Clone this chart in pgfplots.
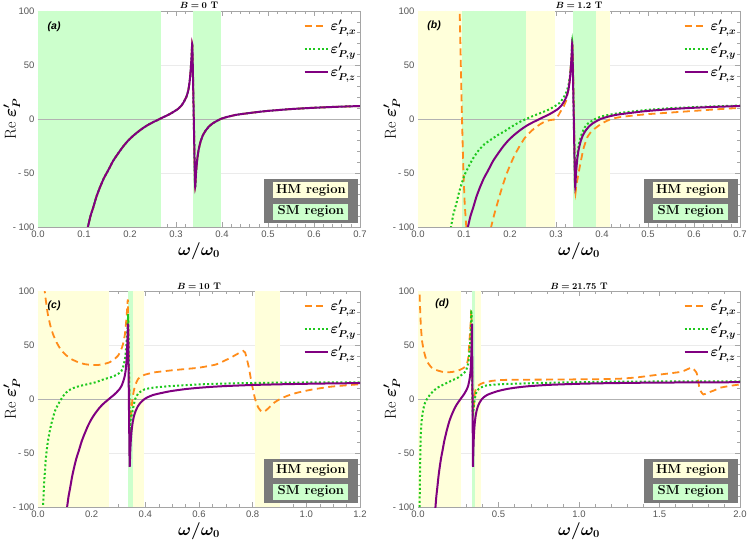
\documentclass[border=0pt]{standalone}
\usepackage{amsmath}
\usepackage{bm}
\usepackage{fontspec}
\setsansfont{Liberation Sans}
\usepackage{pgfplots}
\usepackage{pgfplotstable}
\pgfplotsset{compat=1.18}

\definecolor{cor}{RGB}{255,140,26}
\definecolor{cgr}{RGB}{30,200,30}
\definecolor{cpu}{RGB}{128,0,128}
\definecolor{lgreen}{RGB}{204,255,204}
\definecolor{lyellow}{RGB}{255,255,218}
\definecolor{boxgray}{RGB}{122,122,122}
\definecolor{framegray}{RGB}{165,165,165}
\definecolor{ticklab}{RGB}{85,85,85}

\pgfplotstableread{
x y
0.105 -106
0.109 -99
0.114 -90
0.120 -82
0.127 -72
0.134 -64
0.143 -55
0.152 -48
0.163 -39
0.174 -32
0.185 -25.5
0.196 -20
0.207 -15.5
0.217 -12
0.228 -8.5
0.239 -5.5
0.250 -3
0.262 -0.5
0.272 1.6
0.283 3.8
0.293 6.2
0.304 9.2
0.312 12.5
0.318 16.5
0.323 21
0.327 27
0.330 36
0.332 46
0.334 59
0.3355 69
0.3385 4
0.3415 -62
0.3435 -50
0.346 -38
0.349 -29
0.353 -21.5
0.358 -15.5
0.364 -11
0.372 -6.8
0.380 -4
0.388 -2
0.397 0
0.41 1.8
0.43 3.8
0.45 5.0
0.48 6.6
0.50 7.5
0.55 9.2
0.60 10.4
0.65 11.3
0.70 12.0
0.80 13.0
0.90 13.6
1.00 14.1
1.10 14.45
1.20 14.7
1.35 15.0
1.50 15.2
1.75 15.4
2.00 15.55
}\purpledata

\pgfplotstableread{
x y
0.070 -105
0.0725 -98
0.077 -88
0.083 -79
0.088 -70
0.094 -61
0.101 -52
0.109 -45
0.119 -37
0.130 -30
0.144 -23.5
0.159 -19
0.173 -15
0.188 -11.4
0.202 -7.5
0.217 -3.7
0.228 -1.3
0.235 0
0.250 2.8
0.268 5.8
0.283 8.5
0.297 11.7
0.308 15
0.316 19.5
0.322 24.5
0.327 31
0.331 42
0.3335 56
0.3355 71
0.3385 6
0.3415 -60
0.3435 -47
0.346 -34
0.350 -23
0.355 -15
0.362 -8
0.370 -4
0.385 0
0.40 2.5
0.43 5
0.45 6.2
0.50 8.5
0.55 10
0.60 11
0.65 11.8
0.70 12.4
}\greenb

\pgfplotstableread{
x y
0.088 140
0.0906 100
0.093 52
0.0957 0
0.0985 -45
0.1015 -78
0.105 -100
0.107 -115
}\orangebA

\pgfplotstableread{
x y
0.155 -112
0.159 -100
0.166 -88
0.174 -76
0.183 -63
0.192 -51.5
0.201 -42
0.210 -33.5
0.221 -25
0.232 -17.6
0.243 -12.5
0.254 -8.3
0.265 -5
0.275 -2.6
0.287 -1
0.300 0
0.310 7
0.316 11
0.322 17
0.325 23
0.329 33
0.332 48
0.3345 60
0.3362 66
0.3392 0
0.342 -67
0.344 -62
0.347 -55
0.350 -48
0.354 -39
0.360 -27
0.368 -17
0.376 -12
0.383 -9.3
0.40 -4
0.42 0
0.44 1.8
0.47 3.3
0.50 4.5
0.55 6
0.60 7.5
0.65 9
0.70 10.3
}\orangebB

\pgfplotstableread{
x y
0.020 115
0.025 100
0.031 88
0.037 78
0.046 68
0.056 60
0.070 52
0.087 45
0.105 40.5
0.124 37
0.150 34
0.174 32.3
0.200 31.5
0.224 31.5
0.247 32.5
0.267 34
0.285 37
0.298 40
0.309 45
0.317 51
0.324 60
0.329 73
0.333 86
0.335 91
0.3385 35
0.342 -12
0.345 -19
0.348 -11
0.352 0
0.356 6
0.360 10.7
0.366 15
0.373 18.5
0.385 21
0.398 22.5
0.435 24.7
0.497 26.5
0.56 28
0.60 29
0.664 32
0.716 38
0.745 42
0.765 44.5
0.772 43
0.785 30
0.796 15
0.809 0
0.821 -8
0.835 -12
0.850 -10.5
0.877 -4
0.902 0
0.93 3
0.964 5.7
1.02 8.7
1.088 11.3
1.15 12.7
1.20 13.7
}\orangec

\pgfplotstableread{
x y
0.017 -110
0.019 -99
0.022 -82
0.025 -70
0.030 -53
0.037 -39
0.046 -27
0.056 -17
0.065 -10
0.075 -5
0.087 0
0.099 4.5
0.115 8
0.137 10.7
0.160 12.3
0.186 13.8
0.215 15.5
0.248 18.5
0.270 20
0.286 21.6
0.300 23.5
0.311 26
0.319 31
0.325 38.6
0.330 52
0.3335 65
0.3360 78
0.3395 20
0.3425 -27
0.345 -20
0.350 -14
0.354 -9
0.360 -2
0.362 0
0.366 2
0.375 5.5
0.398 9
0.435 10.7
0.497 12
0.559 13
0.65 14
0.75 14.6
0.85 15
1.0 15.3
1.2 15.5
}\greenc

\pgfplotstableread{
x y
0.004 118
0.006 110
0.010 97
0.014 80
0.018 67
0.025 54
0.033 47
0.041 41.7
0.055 35
0.083 29.3
0.12 26.5
0.166 24.7
0.21 25
0.248 26.2
0.28 28.5
0.300 31
0.312 38
0.321 57
0.327 70
0.331 82
0.335 40
0.339 -5
0.3425 -13
0.346 -7
0.349 0
0.355 7
0.362 10
0.373 12.2
0.39 14
0.414 15.3
0.46 16.8
0.518 17.6
0.6 17.8
0.7 17.9
0.85 18
1.0 18.2
1.15 18.4
1.255 18.8
1.36 20
1.46 21.9
1.55 23.5
1.638 25.3
1.70 29
1.731 24
1.742 15
1.75 8.8
1.772 4.2
1.80 5.8
1.84 8
1.876 10.4
1.94 12.2
2.00 13.5
}\oranged

\pgfplotstableread{
x y
0.008 -112
0.010 -98
0.012 -75
0.014 -55
0.0166 -36
0.020 -25
0.025 -17
0.031 -11
0.040 -5
0.050 -1.5
0.062 1.4
0.08 5
0.10 8
0.124 10.7
0.16 13.5
0.207 16.9
0.25 20
0.29 24.7
0.305 29
0.315 36
0.322 48
0.327 62
0.332 80
0.3355 30
0.339 -12
0.342 -14
0.346 -8
0.352 -1
0.356 2.5
0.362 6
0.375 9
0.414 12.2
0.50 13.6
0.683 14.5
0.9 15.3
1.2 16
1.6 16.3
2.0 16.4
}\greend

\pgfplotsset{
  legend image code/.code={\draw[#1] (0pt,0pt) -- (23pt,0pt);},
  panel/.style={
    width=322pt, height=216pt, scale only axis,
    ymin=-100, ymax=100,
    ytick={-100,-50,0,50,100}, yticklabels={- 100,- 50,0,50,100},
    minor y tick num=4,
    tick align=inside,
    major tick length=5pt, minor tick length=3pt,
    axis line style={framegray, line width=0.6pt},
    every tick/.style={framegray, line width=0.4pt},
    tick label style={font=\sffamily\fontsize{9.5}{10}\selectfont, text=ticklab},
    ymajorgrids, major grid style={black!8, line width=0.5pt},
    xlabel={$\bm{\omega/\omega_0}$},
    ylabel={Re $\bm{\varepsilon'_{P}}$},
    label style={font=\fontsize{16}{18}\selectfont},
    ylabel style={at={(axis description cs:-0.081,0.5)}, anchor=center},
    xlabel style={yshift=2pt},
    title style={font=\bfseries\fontsize{9.5}{10}\selectfont, at={(0.5,1)}, anchor=base, inner sep=0pt, yshift=-4pt},
    legend style={draw=none, fill=none, at={(0.998,0.975)}, anchor=north east,
      font=\fontsize{14}{15}\selectfont, row sep=7pt, inner sep=1pt},
    legend cell align=left,
  },
  px/.style={cor, line width=1.8pt, dash pattern=on 7pt off 4.5pt, smooth, tension=0.3},
  py/.style={cgr, line width=2pt, dash pattern=on 2pt off 2.3pt, smooth, tension=0.3},
  pz/.style={cpu, line width=2pt, smooth, tension=0.3},
  zl/.style={black!30, line width=0.6pt, forget plot},
}

\newcommand{\regionbox}{%
  \node[anchor=south east, fill=boxgray, minimum width=94pt, minimum height=44pt, inner sep=0] (rb) at (rel axis cs:0.994,0.018) {};
  \node[fill=lyellow, minimum width=75pt, minimum height=16pt, inner sep=0, font=\bfseries\fontsize{13}{14}\selectfont] at ([yshift=-11.5pt]rb.north) {HM region};
  \node[fill=lgreen, minimum width=75pt, minimum height=16pt, inner sep=0, font=\bfseries\fontsize{13}{14}\selectfont] at ([yshift=11.5pt]rb.south) {SM region};
}
\newcommand{\plabel}[3]{\node[font=\sffamily\bfseries\itshape\fontsize{10.5}{11}\selectfont] at (rel axis cs:#1,#2) {#3};}

\begin{document}
\begin{tikzpicture}
\path[use as bounding box] (0pt,0pt) rectangle (747pt,541pt);

% (a)
\begin{axis}[panel, at={(38pt,314pt)}, anchor=south west,
  xmin=0, xmax=0.7, xtick={0,0.1,0.2,0.3,0.4,0.5,0.6,0.7},
  xticklabels={0.0,0.1,0.2,0.3,0.4,0.5,0.6,0.7}, minor x tick num=4,
  title={$\bm{B=0}$ T}]
\addplot[fill=lgreen, draw=none, forget plot] coordinates {(0,-100) (0,100) (0.2675,100) (0.2675,-100)};
\addplot[fill=lgreen, draw=none, forget plot] coordinates {(0.338,-100) (0.338,100) (0.397,100) (0.397,-100)};
\addplot[zl] coordinates {(0,0) (0.7,0)};
\addplot[px] table[x=x,y=y] {\purpledata};
\addlegendentry{$\bm{\varepsilon'_{P,x}}$}
\addplot[py] table[x=x,y=y] {\purpledata};
\addlegendentry{$\bm{\varepsilon'_{P,y}}$}
\addplot[pz] table[x=x,y=y] {\purpledata};
\addlegendentry{$\bm{\varepsilon'_{P,z}}$}
\regionbox
\plabel{0.05}{0.928}{(a)}
\end{axis}

% (b)
\begin{axis}[panel, at={(418pt,314pt)}, anchor=south west,
  xmin=0, xmax=0.7, xtick={0,0.1,0.2,0.3,0.4,0.5,0.6,0.7},
  xticklabels={0.0,0.1,0.2,0.3,0.4,0.5,0.6,0.7}, minor x tick num=4,
  title={$\bm{B=1.2}$ T}]
\addplot[fill=lyellow, draw=none, forget plot] coordinates {(0,-100) (0,100) (0.0962,100) (0.0962,-100)};
\addplot[fill=lgreen, draw=none, forget plot] coordinates {(0.0962,-100) (0.0962,100) (0.234,100) (0.234,-100)};
\addplot[fill=lyellow, draw=none, forget plot] coordinates {(0.234,-100) (0.234,100) (0.298,100) (0.298,-100)};
\addplot[fill=lgreen, draw=none, forget plot] coordinates {(0.3377,-100) (0.3377,100) (0.386,100) (0.386,-100)};
\addplot[fill=lyellow, draw=none, forget plot] coordinates {(0.386,-100) (0.386,100) (0.418,100) (0.418,-100)};
\addplot[zl] coordinates {(0,0) (0.7,0)};
\addplot[px] table[x=x,y=y] {\orangebA};
\addlegendentry{$\bm{\varepsilon'_{P,x}}$}
\addplot[px, forget plot] table[x=x,y=y] {\orangebB};
\addplot[py] table[x=x,y=y] {\greenb};
\addlegendentry{$\bm{\varepsilon'_{P,y}}$}
\addplot[pz] table[x=x,y=y] {\purpledata};
\addlegendentry{$\bm{\varepsilon'_{P,z}}$}
\regionbox
\plabel{0.05}{0.932}{(b)}
\end{axis}

% (c)
\begin{axis}[panel, at={(38pt,34pt)}, anchor=south west,
  xmin=0, xmax=1.2, xtick={0,0.2,0.4,0.6,0.8,1.0,1.2},
  xticklabels={0.0,0.2,0.4,0.6,0.8,1.0,1.2}, minor x tick num=3,
  title={$\bm{B=10}$ T}]
\addplot[fill=lyellow, draw=none, forget plot] coordinates {(0,-100) (0,100) (0.265,100) (0.265,-100)};
\addplot[fill=lgreen, draw=none, forget plot] coordinates {(0.337,-100) (0.337,100) (0.353,100) (0.353,-100)};
\addplot[fill=lyellow, draw=none, forget plot] coordinates {(0.353,-100) (0.353,100) (0.396,100) (0.396,-100)};
\addplot[fill=lyellow, draw=none, forget plot] coordinates {(0.809,-100) (0.809,100) (0.902,100) (0.902,-100)};
\addplot[zl] coordinates {(0,0) (1.2,0)};
\addplot[px] table[x=x,y=y] {\orangec};
\addlegendentry{$\bm{\varepsilon'_{P,x}}$}
\addplot[py] table[x=x,y=y] {\greenc};
\addlegendentry{$\bm{\varepsilon'_{P,y}}$}
\addplot[pz] table[x=x,y=y] {\purpledata};
\addlegendentry{$\bm{\varepsilon'_{P,z}}$}
\regionbox
\plabel{0.05}{0.93}{(c)}
\end{axis}

% (d)
\begin{axis}[panel, at={(418pt,34pt)}, anchor=south west,
  xmin=0, xmax=2, xtick={0,0.5,1.0,1.5,2.0},
  xticklabels={0.0,0.5,1.0,1.5,2.0}, minor x tick num=4,
  title={$\bm{B=21.75}$ T}]
\addplot[fill=lyellow, draw=none, forget plot] coordinates {(0,-100) (0,100) (0.265,100) (0.265,-100)};
\addplot[fill=lgreen, draw=none, forget plot] coordinates {(0.337,-100) (0.337,100) (0.354,100) (0.354,-100)};
\addplot[fill=lyellow, draw=none, forget plot] coordinates {(0.354,-100) (0.354,100) (0.394,100) (0.394,-100)};
\addplot[zl] coordinates {(0,0) (2,0)};
\addplot[px] table[x=x,y=y] {\oranged};
\addlegendentry{$\bm{\varepsilon'_{P,x}}$}
\addplot[py] table[x=x,y=y] {\greend};
\addlegendentry{$\bm{\varepsilon'_{P,y}}$}
\addplot[pz] table[x=x,y=y] {\purpledata};
\addlegendentry{$\bm{\varepsilon'_{P,z}}$}
\regionbox
\plabel{0.075}{0.94}{(d)}
\end{axis}
\end{tikzpicture}
\end{document}
